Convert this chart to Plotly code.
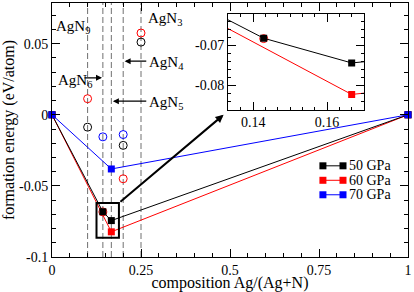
import plotly.graph_objects as go

# ---------------- data ----------------
series_names = ["50 GPa", "60 GPa", "70 GPa"]
series_colors = ["#000000", "#ff0000", "#0000ff"]

# convex-hull (stable) points, connected by lines
hull_comp_50 = [0, 1/7, 1/6, 1]
hull_e_50 = [0, -0.0682, -0.0744, 0]
hull_comp_60 = [0, 1/6, 1]
hull_e_60 = [0, -0.0823, 0]
hull_comp_70 = [0, 1/6, 1]
hull_e_70 = [0, -0.0381, 0]

# metastable points (open circles)
meta_comp_50 = [0.1, 0.2, 0.25]
meta_e_50 = [-0.0087, -0.0215, 0.0511]
meta_comp_60 = [0.1, 1/7, 0.2, 0.25]
meta_e_60 = [0.0113, -0.0683, -0.045, 0.0575]
meta_comp_70 = [1/7, 0.2]
meta_e_70 = [-0.0155, -0.0139]

# phases marked by dashed lines
phase_comp = [1/10, 1/7, 1/6, 1/5, 1/4]
phase_labels = ["AgN<sub>9</sub>", "AgN<sub>6</sub>", "AgN<sub>5</sub>", "AgN<sub>4</sub>", "AgN<sub>3</sub>"]

# tick labels
x_ticks = [0, 0.25, 0.5, 0.75, 1]
x_ticktext = ["0", "0.25", "0.5", "0.75", "1"]
y_ticks = [-0.1, -0.05, 0, 0.05]
y_ticktext = ["-0.1", "-0.05", "0", "0.05"]
inset_x_ticks = [0.14, 0.16]
inset_x_ticktext = ["0.14", "0.16"]
inset_y_ticks = [-0.08, -0.07]
inset_y_ticktext = ["-0.08", "-0.07"]

FONT = "Liberation Serif, Times New Roman, serif"

hulls = [(hull_comp_50, hull_e_50), (hull_comp_60, hull_e_60), (hull_comp_70, hull_e_70)]
metas = [(meta_comp_50, meta_e_50), (meta_comp_60, meta_e_60), (meta_comp_70, meta_e_70)]

fig = go.Figure()

# drawing order: red, black, blue
order = [1, 0, 2]
for axes in [("x", "y"), ("x2", "y2")]:
    for i in order:
        if axes[0] == "x2" and i == 2:
            continue
        mx, my = metas[i]
        fig.add_trace(go.Scatter(
            x=mx, y=my, mode="markers", xaxis=axes[0], yaxis=axes[1],
            marker=dict(symbol="circle-open", size=8, color=series_colors[i], line=dict(width=1)),
            showlegend=False, cliponaxis=(axes[0] == "x2"), hoverinfo="skip"))
    for i in order:
        if axes[0] == "x2" and i == 2:
            continue
        hx, hy = hulls[i]
        fig.add_trace(go.Scatter(
            x=hx, y=hy, mode="lines+markers", xaxis=axes[0], yaxis=axes[1],
            line=dict(color=series_colors[i], width=1),
            marker=dict(symbol="square", size=7, color=series_colors[i]),
            name=series_names[i], showlegend=False,
            cliponaxis=(axes[0] == "x2"), hoverinfo="skip"))

shapes = []
# dashed phase lines
for c in phase_comp:
    shapes.append(dict(type="line", xref="x", yref="y domain", x0=c, x1=c, y0=0, y1=1,
                       line=dict(color="#707070", width=1, dash="6px,3px"), layer="below"))
for c in phase_comp:
    if 0.1332 < c < 0.17:
        shapes.append(dict(type="line", xref="x2", yref="y2 domain", x0=c, x1=c, y0=0, y1=1,
                           line=dict(color="#707070", width=1, dash="6px,3px"), layer="below"))
# zoom box
shapes.append(dict(type="rect", xref="x", yref="y", x0=0.125, x1=0.188, y0=-0.0865, y1=-0.062,
                   line=dict(color="black", width=2)))

annotations = []
# phase labels
label_pos = {
    "AgN<sub>9</sub>": (0.005, 0.0615, None),
    "AgN<sub>6</sub>": (0.010, 0.0240, (0.087, 0.026, 0.1405)),
    "AgN<sub>5</sub>": (0.268, 0.0080, (0.269, 0.0096, 0.171)),
    "AgN<sub>4</sub>": (0.268, 0.0361, (0.269, 0.0377, 0.204)),
    "AgN<sub>3</sub>": (0.265, 0.0675, None),
}
for lab in phase_labels:
    x, y, arr = label_pos[lab]
    annotations.append(dict(x=x, y=y, xref="x", yref="y", text=lab, showarrow=False,
                            xanchor="left", yanchor="middle",
                            font=dict(family=FONT, size=15, color="black")))
    if arr is not None:
        tx, ty, hx = arr
        annotations.append(dict(x=hx, y=ty, xref="x", yref="y", ax=tx, ay=ty, axref="x", ayref="y",
                                text="", showarrow=True, arrowhead=2, arrowsize=1, arrowwidth=1.2,
                                arrowcolor="black", standoff=0, startstandoff=0))
# zoom arrow
annotations.append(dict(x=0.482, y=0.0, xref="x", yref="y", ax=0.188, ay=-0.062, axref="x", ayref="y",
                        text="", showarrow=True, arrowhead=2, arrowsize=0.8, arrowwidth=2,
                        arrowcolor="black", standoff=0, startstandoff=0))

# manual legend
leg_x0, leg_x1, leg_tx = 0.761, 0.8174, 0.8287
leg_y = [0.359, 0.302, 0.245]
for i, name in enumerate(series_names):
    shapes.append(dict(type="line", xref="paper", yref="paper", x0=leg_x0, x1=leg_x1,
                       y0=leg_y[i], y1=leg_y[i], line=dict(color=series_colors[i], width=1)))
    for xa in (leg_x0, leg_x1):
        shapes.append(dict(type="rect", xref="paper", yref="paper", xsizemode="pixel", ysizemode="pixel",
                           xanchor=xa, yanchor=leg_y[i], x0=-3.5, x1=3.5, y0=-3.5, y1=3.5,
                           line=dict(width=0), fillcolor=series_colors[i]))
    annotations.append(dict(x=leg_tx, y=leg_y[i], xref="paper", yref="paper", text=name,
                            showarrow=False, xanchor="left", yanchor="middle",
                            font=dict(family=FONT, size=14, color="black")))

axis_common = dict(showline=True, linecolor="black", linewidth=1, mirror="allticks",
                   ticks="inside", ticklen=8, tickcolor="black", tickwidth=1,
                   showgrid=False, zeroline=False, automargin=False,
                   tickfont=dict(family=FONT, size=14, color="black"))

fig.update_layout(
    width=414, height=292,
    margin=dict(l=52, r=6, t=3, b=35),
    paper_bgcolor="white", plot_bgcolor="white",
    font=dict(family=FONT, size=14, color="black"),
    showlegend=False,
    xaxis=dict(range=[0, 1], tickmode="array", tickvals=x_ticks, ticktext=x_ticktext,
               minor=dict(dtick=0.05, tick0=0, ticks="inside", ticklen=4, tickcolor="black", showgrid=False),
               title=dict(text="composition Ag/(Ag+N)", font=dict(family=FONT, size=16, color="black"), standoff=0),
               domain=[0, 1], anchor="y", **axis_common),
    yaxis=dict(range=[-0.1, 0.0786], tickmode="array", tickvals=y_ticks, ticktext=y_ticktext,
               minor=dict(dtick=0.01, tick0=0, ticks="inside", ticklen=4, tickcolor="black", showgrid=False),
               title=dict(text="formation energy (eV/atom)", font=dict(family=FONT, size=16, color="black"), standoff=4),
               domain=[0, 1], anchor="x", **axis_common),
    xaxis2=dict(range=[0.1332, 0.17], tickmode="array", tickvals=inset_x_ticks, ticktext=inset_x_ticktext,
                minor=dict(dtick=0.02/6, tick0=0.14, ticks="inside", ticklen=3, tickcolor="black", showgrid=False),
                domain=[0.4944, 0.8764], anchor="y2", **axis_common),
    yaxis2=dict(range=[-0.0861, -0.0622], tickmode="array", tickvals=inset_y_ticks, ticktext=inset_y_ticktext,
                minor=dict(dtick=0.002, tick0=-0.07, ticks="inside", ticklen=3, tickcolor="black", showgrid=False),
                domain=[0.5803, 0.9555], anchor="x2", **axis_common),
    shapes=shapes,
    annotations=annotations,
)

fig.write_html("out.html", config={"displayModeBar": False, "staticPlot": True},
               post_script="document.body.style.margin='0';document.body.style.overflow='hidden';")
